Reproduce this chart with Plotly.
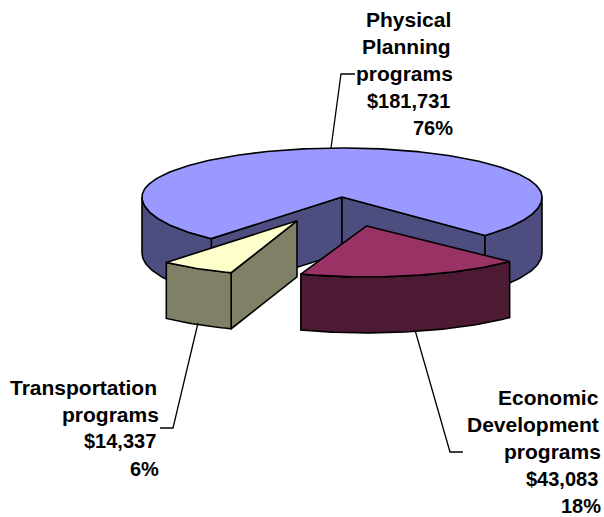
import numpy as np
import plotly.graph_objects as go

# ---- data ----
names = [["Physical", "Planning", "programs"],
         ["Economic", "Development", "programs"],
         ["Transportation", "programs"]]
values = [181731, 43083, 14337]
percents = [76, 18, 6]
top_colors = ["#9999FF", "#993366", "#FFFFCC"]
side_colors = ["#4D4D80", "#4D1A33", "#808066"]

# ---- pie projection (pixel canvas) ----
W, H = 604, 517
CX, CY = 342, 197
RX, RY_UP = 200, 49
RY_DOWN = [55, 51, 55]
DEPTH = 56
FIRST_ANGLE = -130.8
EXPLODE_X = [0, 0.54, 0.45]
EXPLODE_Y = [0, 0.54, 0.5]
LW = 1.6

def pt(a_deg, i=0, ox=0.0, oy=0.0, dz=0.0):
    a = np.radians(a_deg)
    s = np.sin(a)
    ry = np.where(s > 0, RY_UP, RY_DOWN[i])
    return CX + ox + RX * np.cos(a), CY + oy - ry * s + dz

def arc(a0, a1, i=0, ox=0.0, oy=0.0, dz=0.0):
    n = max(int(abs(a1 - a0)), 2) + 1
    return pt(np.linspace(a0, a1, n), i, ox, oy, dz)

fig = go.Figure()

def poly(xs, ys, color):
    fig.add_trace(go.Scatter(x=list(xs), y=list(ys), mode="lines", fill="toself",
                             fillcolor=color, line=dict(color="black", width=LW),
                             hoverinfo="skip", showlegend=False))

total = sum(values)
sweeps = [v / total * 360 for v in values]
starts = [FIRST_ANGLE, FIRST_ANGLE - sweeps[0], FIRST_ANGLE - sweeps[0] - sweeps[1]]
ends = [s - w for s, w in zip(starts, sweeps)]

def offset(i):
    a = np.radians((starts[i] + ends[i]) / 2)
    return RX * np.cos(a) * EXPLODE_X[i], -55 * np.sin(a) * EXPLODE_Y[i]

def side_arc(a0, a1, i, ox, oy):
    x0, y0 = arc(a0, a1, i, ox, oy)
    x1, y1 = arc(a1, a0, i, ox, oy, DEPTH)
    poly(np.r_[x0, x1, x0[0]], np.r_[y0, y1, y0[0]], side_colors[i])

def cut_face(a, i, ox, oy):
    x, y = pt(a, i, ox, oy)
    ax, ay = CX + ox, CY + oy
    poly([ax, x, x, ax, ax], [ay, y, y + DEPTH, ay + DEPTH, ay], side_colors[i])

def top(i, ox, oy):
    x, y = arc(starts[i], ends[i], i, ox, oy)
    ax, ay = CX + ox, CY + oy
    poly(np.r_[ax, x, ax], np.r_[ay, y, ay], top_colors[i])

# main slice: inner cut faces, outer wall, top
cut_face(starts[0], 0, 0, 0)
cut_face(ends[0], 0, 0, 0)
side_arc(starts[0], -180, 0, 0, 0)
side_arc(0, ends[0] + 360, 0, 0, 0)
top(0, 0, 0)

# transportation slice
ox, oy = offset(2)
cut_face(starts[2], 2, ox, oy)
side_arc(starts[2], ends[2], 2, ox, oy)
top(2, ox, oy)

# economic slice
ox, oy = offset(1)
side_arc(starts[1], ends[1], 1, ox, oy)
top(1, ox, oy)

# ---- leader lines ----
leaders = [([331, 341, 355], [148, 74, 74]),
           ([415, 450, 463], [330, 452, 452]),
           ([198, 173, 160], [323, 428, 428])]
for lx, ly in leaders:
    fig.add_trace(go.Scatter(x=lx, y=ly, mode="lines", line=dict(color="black", width=1.3),
                             hoverinfo="skip", showlegend=False))

# ---- labels ----
label_right = [452, 600, 158]
label_top = [19, 397, 387]
LINE = 27.2
annotations = []
for i in range(3):
    lines = names[i] + [f"${values[i]:,}", f"{percents[i]}%"]
    for j, t in enumerate(lines):
        is_num = t.startswith("$") or t.endswith("%")
        nudge = 2 if t == "programs" or t.endswith("%") else (-1 if t.startswith("$") else 0)
        annotations.append(dict(x=label_right[i] + nudge, y=label_top[i] + j * LINE, text=t,
                                xref="x", yref="y", xanchor="right", yanchor="middle",
                                showarrow=False, align="right", borderpad=0,
                                font=dict(family="Liberation Sans", size=20 if is_num else 21,
                                          color="black", weight="bold")))

fig.update_layout(width=W, height=H, margin=dict(l=0, r=0, t=0, b=0),
                  paper_bgcolor="white", plot_bgcolor="white", showlegend=False,
                  annotations=annotations,
                  xaxis=dict(range=[0, W], visible=False),
                  yaxis=dict(range=[H, 0], visible=False))

fig.write_html("out.html", config={"displayModeBar": False},
               post_script="document.body.style.margin='0';document.body.style.overflow='hidden';")
